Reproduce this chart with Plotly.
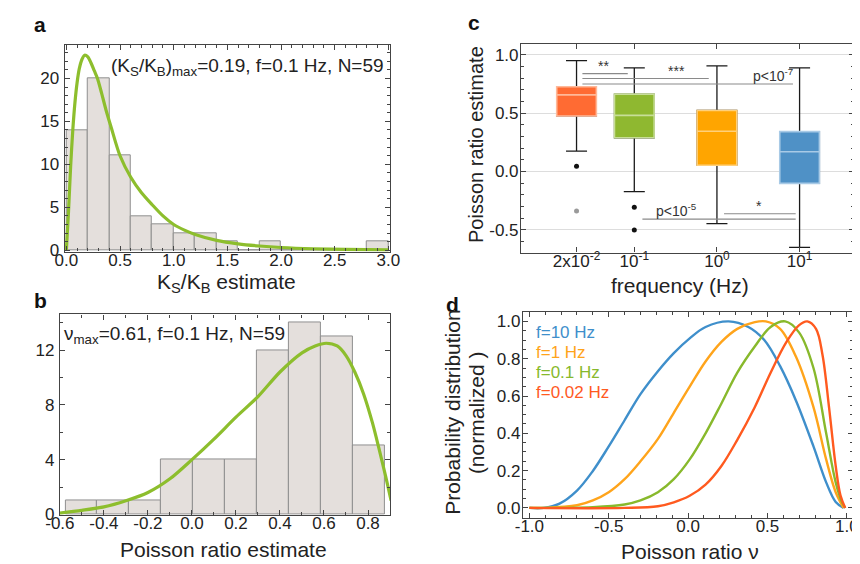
import numpy as np
import plotly.graph_objects as go

# ---------------- data ----------------
# panel a: K_S/K_B histogram (bin width 0.2) and fitted curve
ka_bin_left = [0.0, 0.2, 0.4, 0.6, 0.8, 1.0, 1.2, 1.4, 1.6, 1.8, 2.0, 2.2, 2.4, 2.6, 2.8]
ka_counts = [14, 20, 11, 4, 3, 2, 2, 1, 0, 1, 0, 0, 0, 0, 1]
ka_bin_width = 0.2
ka_curve_x = [0.0, 0.02, 0.04, 0.06, 0.08, 0.10, 0.12, 0.145, 0.17, 0.20, 0.23, 0.26, 0.29,
              0.33, 0.37, 0.42, 0.50, 0.60, 0.70, 0.80, 0.90, 1.00, 1.10, 1.20, 1.40, 1.60,
              1.80, 2.00, 2.30, 2.60, 3.00]
ka_curve_y = [0.0, 4.5, 9.8, 14.0, 17.2, 19.5, 21.1, 22.2, 22.7, 22.5, 21.8, 20.9, 20.0,
              18.2, 16.3, 14.2, 11.0, 8.5, 6.7, 5.3, 4.0, 3.0, 2.35, 1.85, 1.15, 0.75,
              0.5, 0.33, 0.18, 0.1, 0.05]
ka_xticks = [0.0, 0.5, 1.0, 1.5, 2.0, 2.5, 3.0]
ka_yticks = [0, 5, 10, 15, 20]

# panel b: Poisson ratio histogram and fitted curve
pb_bin_left = [-0.575, -0.43, -0.285, -0.14, 0.005, 0.15, 0.295, 0.44, 0.585, 0.73]
pb_counts = [1, 1, 1, 4, 4, 4, 12, 14, 13, 5]
pb_bin_width = 0.145
pb_curve_x = [-0.6, -0.5, -0.4, -0.3, -0.2, -0.1, 0.0, 0.1, 0.2, 0.3, 0.4, 0.5, 0.56, 0.61,
              0.66, 0.70, 0.74, 0.78, 0.82, 0.85, 0.88, 0.905]
pb_curve_y = [0.1, 0.3, 0.55, 1.0, 1.6, 2.6, 4.0, 5.5, 7.1, 8.6, 10.4, 11.8, 12.3, 12.5,
              12.3, 11.6, 10.4, 8.8, 6.7, 4.8, 2.8, 1.0]
pb_xticks = [-0.6, -0.4, -0.2, 0.0, 0.2, 0.4, 0.6, 0.8]
pb_yticks = [0, 4, 8, 12]

# panel c: box statistics per frequency
freqs = [0.02, 0.1, 1.0, 10.0]
freq_labels = ["2x10<sup>-2</sup>", "10<sup>-1</sup>", "10<sup>0</sup>", "10<sup>1</sup>"]
box_q1 = [0.475, 0.288, 0.053, -0.103]
box_median = [0.656, 0.48, 0.344, 0.168]
box_q3 = [0.726, 0.662, 0.522, 0.341]
box_low = [0.173, -0.173, -0.447, -0.651]
box_high = [0.95, 0.888, 0.905, 0.888]
outlier_group = [0, 1, 1]
outlier_value = [0.045, -0.307, -0.503]
outlier_gray_group = [0]
outlier_gray_value = [-0.34]
sig_labels = ["**", "***", "p<10<sup>-7</sup>", "p<10<sup>-5</sup>", "*"]
sig_level = [0.838, 0.796, 0.749, -0.41, -0.363]
pc_yticks = [-0.5, 0.0, 0.5, 1.0]

# panel d: normalized distributions
d_names = ["f=10 Hz", "f=1 Hz", "f=0.1 Hz", "f=0.02 Hz"]
d10_x = [-1.0, -0.91, -0.81, -0.70, -0.60, -0.50, -0.40, -0.30, -0.19, -0.09, 0.01, 0.11,
         0.255, 0.38, 0.48, 0.58, 0.68, 0.79, 0.87, 0.93, 0.98]
d10_y = [0.0, 0.0, 0.023, 0.093, 0.198, 0.33, 0.47, 0.61, 0.733, 0.83, 0.909, 0.97,
         1.0, 0.97, 0.9, 0.76, 0.575, 0.33, 0.137, 0.032, 0.0]
d1_x = [-1.0, -0.91, -0.70, -0.60, -0.50, -0.40, -0.30, -0.19, -0.09, 0.01, 0.11, 0.21,
        0.31, 0.42, 0.49, 0.58, 0.68, 0.79, 0.87, 0.93, 0.98]
d1_y = [0.0, 0.0, 0.014, 0.04, 0.084, 0.154, 0.25, 0.37, 0.51, 0.65, 0.785, 0.89,
        0.96, 0.996, 1.0, 0.96, 0.81, 0.54, 0.26, 0.084, 0.0]
d01_x = [-1.0, -0.60, -0.40, -0.30, -0.19, -0.09, 0.01, 0.11, 0.21, 0.31, 0.42, 0.52,
         0.612, 0.70, 0.79, 0.87, 0.93, 0.97, 0.99]
d01_y = [0.0, 0.004, 0.018, 0.04, 0.084, 0.154, 0.26, 0.4, 0.56, 0.725, 0.865, 0.97,
         1.0, 0.94, 0.75, 0.4, 0.137, 0.03, 0.0]
d002_x = [-1.0, -0.40, -0.19, -0.09, 0.01, 0.11, 0.21, 0.31, 0.42, 0.52, 0.62, 0.70,
          0.751, 0.806, 0.847, 0.888, 0.93, 0.96, 0.99]
d002_y = [0.0, 0.0, 0.009, 0.03, 0.065, 0.125, 0.225, 0.365, 0.54, 0.725, 0.89, 0.98,
          1.0, 0.96, 0.82, 0.54, 0.225, 0.067, 0.0]
pd_xticks = [-1.0, -0.5, 0.0, 0.5, 1.0]
pd_yticks = [0.0, 0.2, 0.4, 0.6, 0.8, 1.0]

# ---------------- styles ----------------
FONT = "Liberation Sans, Arial, sans-serif"
AX = "#444444"
GREEN_FIT = "#8DBE2D"
BAR_FILL = "#E4DFDC"
BAR_EDGE = "#8F8F8F"
box_colors = ["#FF6B33", "#8FB830", "#FFA500", "#4F91C6"]
box_edge = ["#FFB999", "#C8DE98", "#FFD07A", "#A8CAE6"]
d_colors = ["#3F8FCB", "#FFA41B", "#88B92C", "#FF5A1F"]

W, H = 860, 564
TICK_SIZE = 17
TITLE_SIZE = 21


def dom_x(p0, p1):
    return [p0 / W, p1 / W]


def dom_y(p0, p1):  # p0 top pixel, p1 bottom pixel
    return [1 - p1 / H, 1 - p0 / H]


def labels(vals, fmt):
    return [fmt.format(v) for v in vals]


def axis(**kw):
    base = dict(showline=True, linecolor=AX, linewidth=1.3, mirror="allticks",
                ticks="inside", ticklen=5, tickwidth=1, tickcolor=AX,
                tickfont=dict(family=FONT, size=TICK_SIZE, color="#222"),
                showgrid=False, zeroline=False)
    base.update(kw)
    return base


def xaxis_(**kw):
    return axis(ticklabelstandoff=-7, **kw)


def yaxis_(standoff=-2, **kw):
    return axis(ticklabelstandoff=standoff, **kw)


def minor(d):
    return dict(ticks="inside", ticklen=3, tickcolor=AX, dtick=d, showgrid=False)


fig = go.Figure()

# ---- panel a ----
fig.add_trace(go.Bar(x=[l + ka_bin_width / 2 for l in ka_bin_left], y=ka_counts,
                     width=ka_bin_width, marker=dict(color=BAR_FILL, line=dict(color=BAR_EDGE, width=1)),
                     xaxis="x", yaxis="y", showlegend=False))
fig.add_trace(go.Scatter(x=ka_curve_x, y=ka_curve_y, mode="lines",
                         line=dict(color=GREEN_FIT, width=3.2, shape="spline", smoothing=0.8),
                         xaxis="x", yaxis="y", showlegend=False))

# ---- panel b ----
fig.add_trace(go.Bar(x=[l + pb_bin_width / 2 for l in pb_bin_left], y=pb_counts,
                     width=pb_bin_width, marker=dict(color=BAR_FILL, line=dict(color=BAR_EDGE, width=1)),
                     xaxis="x2", yaxis="y2", showlegend=False))
fig.add_trace(go.Scatter(x=pb_curve_x, y=pb_curve_y, mode="lines",
                         line=dict(color=GREEN_FIT, width=3.2, shape="spline", smoothing=0.8),
                         xaxis="x2", yaxis="y2", showlegend=False))

# ---- panel c ----
logf = [float(np.log10(f)) for f in freqs]
for i in range(len(freqs)):
    fig.add_trace(go.Box(x=[logf[i]], q1=[box_q1[i]], median=[box_median[i]], q3=[box_q3[i]],
                         lowerfence=[box_low[i]], upperfence=[box_high[i]], width=0.48, whiskerwidth=0.53,
                         line=dict(color="#1a1a1a", width=1.3), fillcolor=box_colors[i], boxpoints=False,
                         xaxis="x3", yaxis="y3", showlegend=False, hoverinfo="skip"))
    fig.add_trace(go.Box(x=[logf[i]], q1=[box_q1[i]], median=[box_median[i]], q3=[box_q3[i]],
                         lowerfence=[box_q1[i]], upperfence=[box_q3[i]], width=0.48, whiskerwidth=0,
                         line=dict(color=box_edge[i], width=1.6), fillcolor=box_colors[i], boxpoints=False,
                         xaxis="x3", yaxis="y3", showlegend=False))
fig.add_trace(go.Scatter(x=[logf[g] for g in outlier_group], y=outlier_value, mode="markers",
                         marker=dict(color="#111", size=5), xaxis="x3", yaxis="y3", showlegend=False))
fig.add_trace(go.Scatter(x=[logf[g] for g in outlier_gray_group], y=outlier_gray_value, mode="markers",
                         marker=dict(color="#9a9a9a", size=5), xaxis="x3", yaxis="y3", showlegend=False))

# significance brackets (start group, end group, offsets in decades)
sig_from = [0, 0, 0, 1, 2]
sig_to = [1, 2, 3, 3, 3]
sig_off0 = [0.071, 0.071, 0.071, 0.098, 0.086]
sig_off1 = [-0.079, -0.099, -0.08, -0.047, -0.047]
sig_text_x = [-1.37, -0.49, 0.68, -0.49, 0.506]
shapes = []
annotations = []
for k in range(len(sig_labels)):
    x0 = logf[sig_from[k]] + sig_off0[k]
    x1 = logf[sig_to[k]] + sig_off1[k]
    shapes.append(dict(type="line", xref="x3", yref="y3", x0=x0, x1=x1, y0=sig_level[k], y1=sig_level[k],
                       line=dict(color="#8a8a8a", width=1.2)))
    annotations.append(dict(xref="x3", yref="y3", x=sig_text_x[k], y=sig_level[k], text=sig_labels[k],
                            showarrow=False, yanchor="bottom", xanchor="center", yshift=-2,
                            font=dict(family=FONT, size=14, color="#333")))

# ---- panel d ----
for xs, ys, c in [(d10_x, d10_y, d_colors[0]), (d1_x, d1_y, d_colors[1]),
                  (d01_x, d01_y, d_colors[2]), (d002_x, d002_y, d_colors[3])]:
    fig.add_trace(go.Scatter(x=xs, y=ys, mode="lines", line=dict(color=c, width=2.4, shape="spline", smoothing=1.0),
                             xaxis="x4", yaxis="y4", showlegend=False))

for k, (name, c) in enumerate(zip(d_names, d_colors)):
    annotations.append(dict(xref="paper", yref="paper", x=526 / W, y=1 - (330 + k * 20.5) / H,
                            text=name, showarrow=False, xanchor="left", yanchor="middle",
                            font=dict(family=FONT, size=17, color=c)))


# ---- text annotations ----
def ptxt(x, y, text, size=TITLE_SIZE, xanchor="center", yanchor="middle", textangle=0, bold=False, color="#222"):
    annotations.append(dict(xref="paper", yref="paper", x=x / W, y=1 - y / H,
                            text=(f"<b>{text}</b>" if bold else text),
                            showarrow=False, xanchor=xanchor, yanchor=yanchor, textangle=textangle,
                            font=dict(family=FONT, size=size, color=color)))


ptxt(17, 17, "a", size=21, bold=True, color="#111")
ptxt(18, 298, "b", size=21, bold=True, color="#111")
ptxt(465, 15, "c", size=21, bold=True, color="#111")
ptxt(442, 302, "d", size=21, bold=True, color="#111")

ptxt(374, 60, "(K<sub>S</sub>/K<sub>B</sub>)<sub>max</sub>=0.19, f=0.1 Hz, N=59", size=19, xanchor="right")
ptxt(40, 333, "ν<sub>max</sub>=0.61, f=0.1 Hz, N=59", size=19, xanchor="left")

ptxt(210, 280, "K<sub>S</sub>/K<sub>B</sub> estimate")
ptxt(207, 551, "Poisson ratio estimate")
ptxt(677, 283, "frequency (Hz)")
ptxt(466, 139, "Poisson ratio estimate", size=20, textangle=-90)
ptxt(687, 553, "Poisson ratio ν")
ptxt(443, 412, "Probability distribution", textangle=-90)
ptxt(467, 412, "(normalized )", textangle=-90)

fig.update_layout(
    width=W, height=H, margin=dict(l=0, r=0, t=0, b=0),
    paper_bgcolor="white", plot_bgcolor="white", bargap=0, boxmode="overlay",
    font=dict(family=FONT, color="#222"),
    shapes=shapes, annotations=annotations,
    xaxis=xaxis_(domain=dom_x(43, 378), anchor="y", range=[-0.015, 3.015], tickmode="array",
                 tickvals=ka_xticks, ticktext=labels(ka_xticks, "{:.1f}"), minor=minor(0.1)),
    yaxis=yaxis_(standoff=1, domain=dom_y(38, 248), anchor="x", range=[-0.15, 23.85], tickmode="array",
                 tickvals=ka_yticks, ticktext=labels(ka_yticks, "{:d}"), minor=minor(1)),
    xaxis2=xaxis_(domain=dom_x(38, 378), anchor="y2", range=[-0.6, 0.9], tickmode="array",
                  tickvals=pb_xticks, ticktext=labels(pb_xticks, "{:.1f}"), minor=minor(0.1)),
    yaxis2=yaxis_(standoff=1, domain=dom_y(312, 516), anchor="x2", range=[-0.03, 14.6], tickmode="array",
                  tickvals=pb_yticks, ticktext=labels(pb_yticks, "{:d}"), minor=minor(2)),
    xaxis3=xaxis_(domain=dom_x(513, 856), anchor="y3", range=[-2.37, 1.66], tickmode="array",
                  tickvals=logf, ticktext=freq_labels),
    yaxis3=yaxis_(domain=dom_y(37, 249), anchor="x3", range=[-0.696, 1.089], tickmode="array",
                  tickvals=pc_yticks, ticktext=labels(pc_yticks, "{:.1f}"),
                  showgrid=True, gridcolor="#DDDDDD", gridwidth=1, minor=minor(0.1)),
    xaxis4=xaxis_(domain=dom_x(515, 855), anchor="y4", range=[-1.04, 1.04], tickmode="array",
                  tickvals=pd_xticks, ticktext=labels(pd_xticks, "{:.1f}"), minor=minor(0.1)),
    yaxis4=yaxis_(domain=dom_y(309, 519), anchor="x4", range=[-0.053, 1.053], tickmode="array",
                  tickvals=pd_yticks, ticktext=labels(pd_yticks, "{:.1f}"), minor=minor(0.05)),
)

fig.write_html("out.html")
